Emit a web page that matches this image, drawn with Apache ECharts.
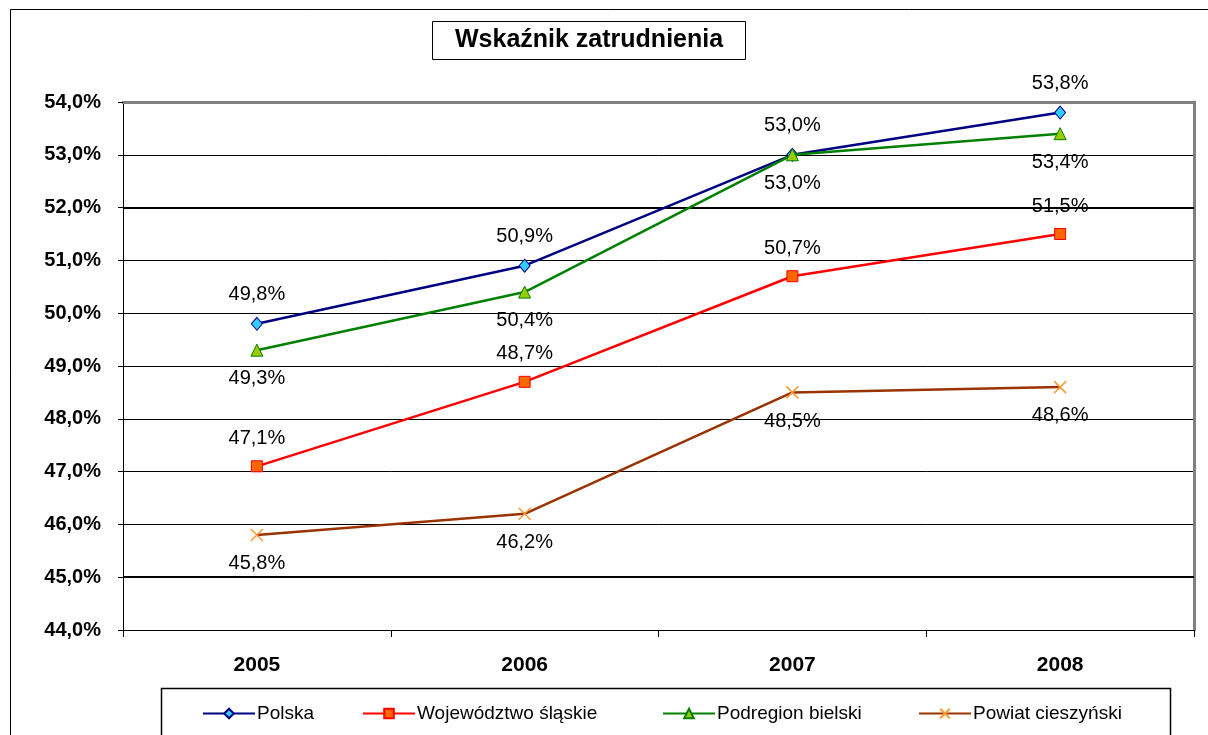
<!DOCTYPE html>
<html>
<head>
<meta charset="utf-8">
<script src="https://cdn.jsdelivr.net/npm/echarts@6/dist/echarts.min.js"></script>
<style>
  html, body { margin: 0; padding: 0; background: #fff; }
  #chart { width: 1208px; height: 735px; }
</style>
</head>
<body>
<div id="chart"></div>
<script>
const years = ['2005', '2006', '2007', '2008']
const polska = [49.8, 50.9, 53.0, 53.8]
const slaskie = [47.1, 48.7, 50.7, 51.5]
const bielski = [49.3, 50.4, 53.0, 53.4]
const cieszynski = [45.8, 46.2, 48.5, 48.6]
const seriesNames = ['Polska', 'Województwo śląskie', 'Podregion bielski', 'Powiat cieszyński']

const font = 'Liberation Sans, Arial, sans-serif'
const fmt = p => p.value.toFixed(1).replace('.', ',') + '%'

const chart = echarts.init(document.getElementById('chart'))

function lbl(pos) {
  return { show: true, position: pos, distance: 12, formatter: fmt, color: '#000', fontFamily: font, fontSize: 20 }
}

function legendAt(name, left) {
  return {
    data: [name], left: left, top: 704, padding: 0,
    itemWidth: 52, itemHeight: 12, itemGap: 2,
    selectedMode: false,
    textStyle: { fontFamily: font, fontSize: 19, color: '#000', padding: [0, 0, 0, -3] }
  }
}

const option = {
  animation: false,
  title: {
    text: 'Wskaźnik zatrudnienia',
    left: 432, top: 21,
    padding: [7, 23, 7, 23],
    borderColor: '#000', borderWidth: 1,
    textStyle: { fontFamily: font, fontSize: 25, fontWeight: 'bold', color: '#000' }
  },
  legend: [
    legendAt(seriesNames[0], 202),
    legendAt(seriesNames[1], 362),
    legendAt(seriesNames[2], 662),
    legendAt(seriesNames[3], 918)
  ],
  graphic: [
    { type: 'rect', left: 8, top: 7, shape: { width: 1300, height: 800 }, style: { fill: 'none', stroke: '#000', lineWidth: 1 }, z: -1 },
    { type: 'rect', left: 159, top: 686, shape: { width: 1009, height: 80 }, style: { fill: 'none', stroke: '#000', lineWidth: 1.5 }, z: -1 }
  ],
  grid: { left: 123, top: 102, right: 14, bottom: 105 },
  xAxis: [
    {
      type: 'category', data: years, boundaryGap: true,
      axisLine: { lineStyle: { color: '#000', width: 1 } },
      axisTick: { show: true, length: 7, lineStyle: { color: '#000' } },
      axisLabel: { margin: 25, color: '#000', fontFamily: font, fontSize: 21, fontWeight: 'bold' }
    },
    {
      type: 'category', data: years, position: 'top',
      axisLine: { lineStyle: { color: '#808080', width: 3 } },
      axisTick: { show: false }, axisLabel: { show: false }
    }
  ],
  yAxis: [
    {
      type: 'value', min: 44, max: 54, interval: 1,
      axisLine: { show: true, lineStyle: { color: '#000', width: 1 } },
      axisTick: { show: true, length: 5, lineStyle: { color: '#000' } },
      axisLabel: {
        margin: 22, color: '#000', fontFamily: font, fontSize: 20, fontWeight: 'bold',
        formatter: v => v.toFixed(1).replace('.', ',') + '%'
      },
      splitLine: { show: true, lineStyle: { color: '#000', width: 1 } }
    },
    {
      type: 'value', min: 44, max: 54, interval: 1, position: 'right',
      axisLine: { show: true, lineStyle: { color: '#808080', width: 3 } },
      axisTick: { show: false }, axisLabel: { show: false }, splitLine: { show: false }
    }
  ],
  series: [
    {
      name: 'guides', type: 'line', data: [], z: 1, silent: true,
      markLine: {
        silent: true, symbol: 'none', label: { show: false },
        lineStyle: { color: '#000', width: 2, type: 'solid' },
        data: [{ yAxis: 52 }, { yAxis: 45 }]
      }
    },
    {
      name: seriesNames[0], type: 'line', data: polska, z: 5,
      symbol: 'diamond', symbolSize: [11, 13],
      lineStyle: { color: '#000080', width: 2.5 },
      itemStyle: { color: '#33ccff', borderColor: '#000080', borderWidth: 1 },
      label: lbl('top')
    },
    {
      name: seriesNames[1], type: 'line', data: slaskie, z: 4,
      symbol: 'rect', symbolSize: 11,
      lineStyle: { color: '#ff0000', width: 2.5 },
      itemStyle: { color: '#ff6600', borderColor: '#ff0000', borderWidth: 1 },
      label: lbl('top')
    },
    {
      name: seriesNames[2], type: 'line', data: bielski, z: 6,
      symbol: 'triangle', symbolSize: 12,
      lineStyle: { color: '#008000', width: 2.5 },
      itemStyle: { color: '#99cc00', borderColor: '#008000', borderWidth: 1 },
      label: lbl('bottom')
    },
    {
      name: seriesNames[3], type: 'line', data: cieszynski, z: 3,
      symbol: 'path://M0,0L10,10M10,0L0,10', symbolSize: 12,
      lineStyle: { color: '#993300', width: 2.5 },
      itemStyle: { color: 'rgba(0,0,0,0)', borderColor: '#ff9933', borderWidth: 1.5 },
      label: lbl('bottom')
    }
  ]
}

chart.setOption(option)
</script>
</body>
</html>
